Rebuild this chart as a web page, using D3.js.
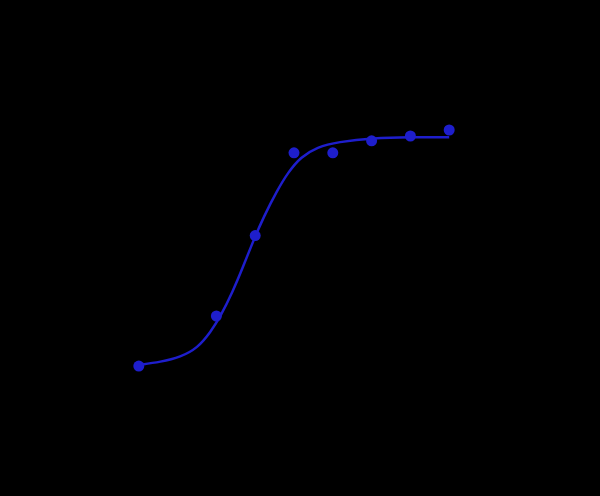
<!DOCTYPE html>
<html>
<head>
<meta charset="utf-8">
<script src="https://cdn.jsdelivr.net/npm/d3@7"></script>
<style>
  html, body { margin: 0; padding: 0; background: #000; }
  svg { display: block; }
</style>
</head>
<body>
<svg width="600" height="496"></svg>
<script>
// measured standards (concentration, OD)
const concentrations = [0.1, 0.4, 0.8, 1.6, 3.2, 6.4, 12.8, 25.6];
const odValues = [0.283, 0.70, 1.37, 2.06, 2.06, 2.16, 2.20, 2.25];
const odErrors = [0.03, 0.03, 0.04, 0.04, 0.04, 0.03, 0.03, 0.03];

// fitted curve
const fitConc = [0.1, 0.148, 0.211, 0.286, 0.361, 0.432, 0.534, 0.639, 0.777, 0.929, 1.19, 1.43, 1.80, 2.43, 3.48, 6.6, 12.8, 25.6];
const fitOd = [0.292, 0.317, 0.358, 0.433, 0.567, 0.70, 0.90, 1.10, 1.333, 1.525, 1.75, 1.892, 2.025, 2.108, 2.15, 2.185, 2.19, 2.19];

const xTicks = [0.1, 1, 10];
const yTicks = [0, 0.5, 1, 1.5, 2, 2.5];

const svg = d3.select("svg");
const blue = "#1e1ecc";

const x = d3.scaleLog().domain([0.05, 51.2]).range([100, 488]);
const y = d3.scaleLinear().domain([0, 2.5]).range([400, 100]);

// axes (drawn black, like the original on its dark backdrop)
svg.append("g")
    .attr("transform", "translate(0,400)")
    .call(d3.axisBottom(x).tickValues(xTicks).tickFormat(d3.format("~g")))
    .call(g => g.selectAll("path,line").attr("stroke", "#000"))
    .call(g => g.selectAll("text").attr("fill", "#000"));

svg.append("g")
    .attr("transform", "translate(100,0)")
    .call(d3.axisLeft(y).tickValues(yTicks))
    .call(g => g.selectAll("path,line").attr("stroke", "#000"))
    .call(g => g.selectAll("text").attr("fill", "#000"));

// fit line
const fit = fitConc.map((c, i) => ({ c: c, v: fitOd[i] }));
svg.append("path")
    .datum(fit)
    .attr("fill", "none")
    .attr("stroke", blue)
    .attr("stroke-width", 2.5)
    .attr("d", d3.line()
        .x(d => x(d.c))
        .y(d => y(d.v))
        .curve(d3.curveBasis));

// points with error bars
const pts = concentrations.map((c, i) => ({ c: c, v: odValues[i], e: odErrors[i] }));

svg.append("g").selectAll("line")
    .data(pts)
    .join("line")
    .attr("x1", d => x(d.c))
    .attr("x2", d => x(d.c))
    .attr("y1", d => y(d.v - d.e))
    .attr("y2", d => y(d.v + d.e))
    .attr("stroke", blue)
    .attr("stroke-width", 2);

svg.append("g").selectAll("circle")
    .data(pts)
    .join("circle")
    .attr("cx", d => x(d.c))
    .attr("cy", d => y(d.v))
    .attr("r", 5.5)
    .attr("fill", blue);
</script>
</body>
</html>
